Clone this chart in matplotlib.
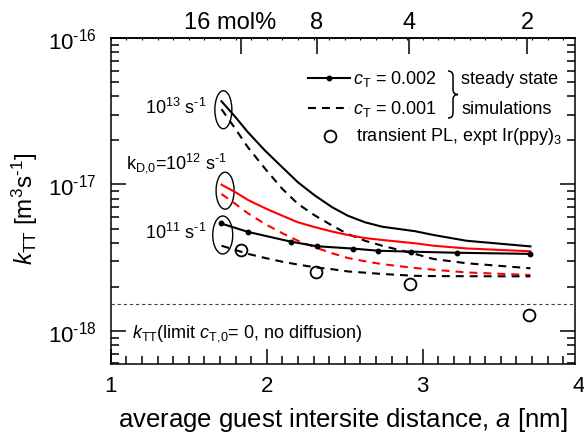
import numpy as np
import matplotlib.pyplot as plt
import matplotlib.transforms as mtransforms
from matplotlib.patches import Ellipse, PathPatch
from matplotlib.path import Path
from matplotlib.ticker import MultipleLocator, NullFormatter, FuncFormatter, FixedLocator

plt.rcParams['font.family'] = ['Liberation Sans', 'DejaVu Sans']
plt.rcParams['mathtext.fontset'] = 'custom'
plt.rcParams['mathtext.rm'] = 'Liberation Sans'
plt.rcParams['mathtext.it'] = 'Liberation Sans:italic'
plt.rcParams['mathtext.bf'] = 'Liberation Sans:bold'

# average guest intersite distance a [nm] for the simulated curves
a_sim = [1.71, 1.80, 1.88, 1.99, 2.10, 2.20, 2.31, 2.42, 2.52, 2.63, 2.74, 2.95, 3.07, 3.28, 3.69]

# k_TT [m^3/s], steady state simulations
k13_c2 = [3.70e-17, 2.88e-17, 2.27e-17, 1.70e-17, 1.31e-17, 1.035e-17, 8.39e-18, 6.99e-18,
          6.12e-18, 5.52e-18, 5.15e-18, 4.80e-18, 4.52e-18, 4.13e-18, 3.78e-18]
k13_c1 = [3.27e-17, 2.39e-17, 1.79e-17, 1.28e-17, 9.33e-18, 7.37e-18, 6.13e-18, 5.24e-18,
          4.59e-18, 4.13e-18, 3.82e-18, 3.36e-18, 3.10e-18, 2.90e-18, 2.68e-18]
k12_c2 = [9.97e-18, 8.85e-18, 7.84e-18, 6.88e-18, 6.12e-18, 5.52e-18, 5.11e-18, 4.77e-18,
          4.52e-18, 4.31e-18, 4.18e-18, 3.97e-18, 3.82e-18, 3.66e-18, 3.50e-18]
k12_c1 = [8.61e-18, 7.36e-18, 6.35e-18, 5.37e-18, 4.65e-18, 4.13e-18, 3.72e-18, 3.39e-18,
          3.15e-18, 2.99e-18, 2.86e-18, 2.69e-18, 2.62e-18, 2.51e-18, 2.41e-18]
k11_c1 = [3.82e-18, 3.57e-18, 3.36e-18, 3.15e-18, 2.97e-18, 2.84e-18, 2.72e-18, 2.64e-18,
          2.55e-18, 2.50e-18, 2.45e-18, 2.38e-18, 2.37e-18, 2.365e-18, 2.36e-18]

# k_D,0 = 1e11 s^-1, c_T = 0.002 (computed points)
a_dots = [1.705, 1.882, 2.156, 2.32, 2.555, 2.715, 2.923, 3.218, 3.688]
k11_c2 = [5.43e-18, 4.74e-18, 4.07e-18, 3.79e-18, 3.65e-18, 3.53e-18, 3.48e-18, 3.42e-18, 3.36e-18]

# transient PL, Ir(ppy)3
a_expt = [1.837, 2.317, 2.918, 3.683]
k_expt = [3.59e-18, 2.51e-18, 2.09e-18, 1.29e-18]

# no-diffusion limit
k_limit = 1.53e-18

# guest concentration axis
mol_labels = ['16 mol%', '8', '4', '2']
mol_pos = [1.836, 2.32, 2.915, 3.67]

# decades labelled on the k_TT axis
k_decades = [1e-18, 1e-17, 1e-16]

INV_S = r's$^{\text{-1}}$'

fig = plt.figure(figsize=(5.84, 4.35), dpi=100)
ax = fig.add_axes([0.1896, 0.1609, 0.795, 0.7494])

lw = 1.5
dash = (3.8, 2.9)
ax.plot(a_sim, k13_c2, color='black', lw=lw)
ax.plot(a_sim, k13_c1, color='black', lw=lw, dashes=dash)
ax.plot(a_sim, k12_c2, color='red', lw=lw)
ax.plot(a_sim, k12_c1, color='red', lw=lw, dashes=dash)
ax.plot(a_dots, k11_c2, color='black', lw=lw, marker='o', ms=3.2)
ax.plot(a_sim, k11_c1, color='black', lw=lw, dashes=dash)
ax.plot(a_expt, k_expt, ls='none', marker='o', ms=8.5, mfc='none', mec='black', mew=1.3)
ax.axhline(k_limit, color='#444444', lw=0.8, dashes=(3, 2.5))

ax.set_yscale('log')
ax.set_xlim(1, 3.976)
ax.set_ylim(5.95e-19, 1e-16)
ax.set_xticks([1, 2, 3])
ax.xaxis.set_minor_locator(MultipleLocator(0.1))
ax.yaxis.set_major_locator(FixedLocator(k_decades))
ax.yaxis.set_major_formatter(FuncFormatter(
    lambda v, pos: r'10$^{\text{%d}}$' % int(round(np.log10(v))) if v > 0 else ''))
ax.yaxis.set_minor_formatter(NullFormatter())
ax.tick_params(which='both', direction='in', right=True, width=1.1, labelsize=16)
ax.tick_params(which='major', length=11)
ax.tick_params(which='minor', length=5.5)
ax.tick_params(axis='y', pad=10)
ax.tick_params(axis='x', pad=8)
for sp in ax.spines.values():
    sp.set_linewidth(1.1)

# '4' sits just past the right edge
ax.annotate('4', xy=(4, 0), xycoords=('data', 'axes fraction'), xytext=(0, -8),
            textcoords='offset points', ha='center', va='top', fontsize=16,
            annotation_clip=False)

# top axis: guest concentration
sec = ax.secondary_xaxis('top')
sec.set_xticks(mol_pos)
sec.set_xticklabels([])
sec.xaxis.set_minor_locator(MultipleLocator(0.1))
sec.tick_params(which='major', direction='in', length=11.5, width=1.1)
sec.tick_params(which='minor', direction='in', length=1.5, width=0.8)
sec.spines['top'].set_linewidth(1.1)
for lab, pos in zip(mol_labels, mol_pos):
    dx = -8 if lab.endswith('%') else 0
    ax.annotate(lab, xy=(pos, 1), xycoords=('data', 'axes fraction'), xytext=(dx, 7.5),
                textcoords='offset points', ha='center', va='baseline', fontsize=17)

ax.set_xlabel('average guest intersite distance, $a$ [nm]', fontsize=18.5)
ax.xaxis.set_label_coords(0.5, -0.126)
ax.set_ylabel(r'$k_{\text{TT}}$ [m$^3$s$^{\text{-1}}$]', fontsize=17.5)
ax.yaxis.set_label_coords(-0.152, 0.48)

# k_D,0 groups
for (ex, ey), (w, h) in [((1.722, 3.24e-17), (0.17, 0.38)),
                         ((1.733, 9.07e-18), (0.18, 0.37)),
                         ((1.718, 4.52e-18), (0.20, 0.38))]:
    tr = fig.dpi_scale_trans + mtransforms.ScaledTranslation(ex, ey, ax.transData)
    ax.add_patch(Ellipse((0, 0), w, h, transform=tr, fill=False, lw=1.0, ec='black'))

ax.text(1.617, 3.38e-17, '10$^{13}$ ' + INV_S, ha='right', va='center', fontsize=13)
ax.text(1.422, 1.425e-17, r'k$_{\text{D,0}}$=10$^{12}$ ' + INV_S, ha='center', va='center',
        fontsize=13)
ax.text(1.617, 4.74e-18, '10$^{11}$ ' + INV_S, ha='right', va='center', fontsize=13)

ax.text(0.0452, 0.098, r'$k_{\text{TT}}$(limit $c_{\text{T,0}}$= 0, no diffusion)',
        transform=ax.transAxes, ha='left', va='center', fontsize=13)

# legend
y1, y2, y3 = 0.8764, 0.7853, 0.7003
ax.plot([0.425, 0.470, 0.5154], [y1] * 3, color='black', lw=lw, marker='o', ms=3.2,
        markevery=[1], transform=ax.transAxes)
ax.plot([0.425, 0.5154], [y2] * 2, color='black', lw=lw, dashes=dash, transform=ax.transAxes)
ax.plot([0.4723], [y3], ls='none', marker='o', ms=8.5, mfc='none', mec='black', mew=1.3,
        transform=ax.transAxes)
ax.text(0.5219, y1, r'$c_{\text{T}}$ = 0.002', transform=ax.transAxes, va='center', fontsize=13)
ax.text(0.5219, y2, r'$c_{\text{T}}$ = 0.001', transform=ax.transAxes, va='center', fontsize=13)
ax.text(0.528, y3, r'transient PL, expt Ir(ppy)$_3$', transform=ax.transAxes, va='center',
        fontsize=13)
ax.text(0.7545, y1, 'steady state', transform=ax.transAxes, va='center', fontsize=13)
ax.text(0.7545, y2, 'simulations', transform=ax.transAxes, va='center', fontsize=13)

# curly brace joining the two simulation entries
bx, bw = 0.7265, 0.0215
b0, b1 = 0.7546, 0.8988
bm, d = 0.5 * (b0 + b1), 0.0153
verts = [(bx, b1), (bx + bw / 2, b1), (bx + bw / 2, b1 - d), (bx + bw / 2, bm + d),
         (bx + bw / 2, bm), (bx + bw, bm), (bx + bw / 2, bm), (bx + bw / 2, bm - d),
         (bx + bw / 2, b0 + d), (bx + bw / 2, b0), (bx, b0)]
codes = [Path.MOVETO, Path.CURVE3, Path.CURVE3, Path.LINETO, Path.CURVE3, Path.CURVE3,
         Path.CURVE3, Path.CURVE3, Path.LINETO, Path.CURVE3, Path.CURVE3]
ax.add_patch(PathPatch(Path(verts, codes), fill=False, lw=1.1, ec='black',
                       transform=ax.transAxes))

fig.savefig('out.png', dpi=100)
